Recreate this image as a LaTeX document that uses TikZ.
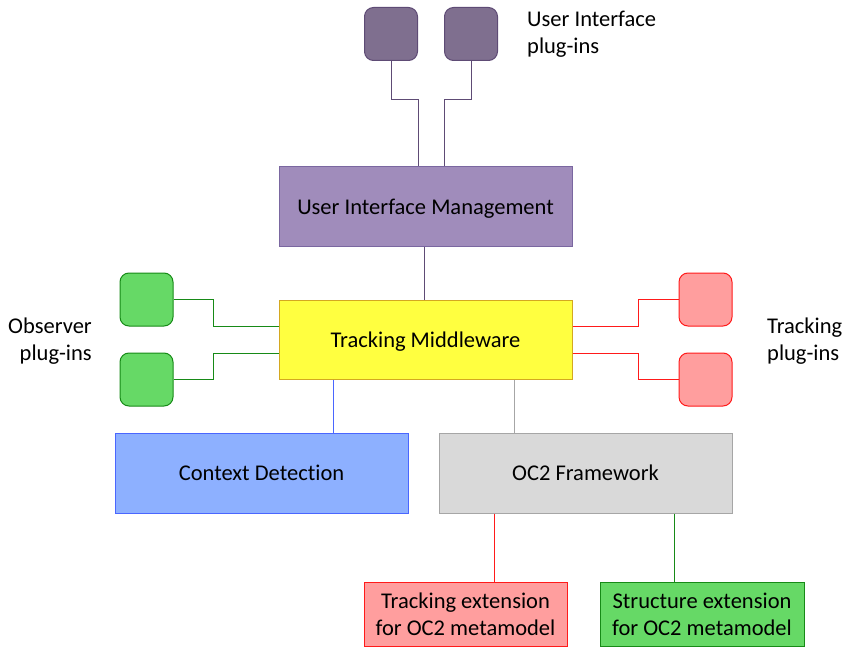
\documentclass[tikz,border=0pt]{standalone}
\usepackage{fontspec}
\setmainfont[Ligatures=NoCommon]{Carlito}
\begin{document}
\begin{tikzpicture}[x=1pt,y=-1pt,
  every node/.style={font=\fontsize{22.5}{27}\selectfont},
  blk/.style={draw, line width=1pt, inner sep=0pt, text depth=-1.5pt},
  plug/.style={draw, line width=1pt, rounded corners=9pt, minimum width=53pt, minimum height=53pt, inner sep=0pt},
  lbl/.style={align=left, inner sep=0pt},
  conn/.style={line width=1pt}]
\definecolor{uiplug}{HTML}{7F6F8F}
\definecolor{uiplugb}{HTML}{5E4B75}
\definecolor{uim}{HTML}{A08CBB}
\definecolor{uimb}{HTML}{7A67A0}
\definecolor{tmfill}{HTML}{FFFF40}
\definecolor{tmb}{HTML}{D4A820}
\definecolor{gfill}{HTML}{66D966}
\definecolor{gline}{HTML}{178A17}
\definecolor{rfill}{HTML}{FF9E9E}
\definecolor{rline}{HTML}{FF1A1A}
\definecolor{bfill}{HTML}{8DB0FF}
\definecolor{bline}{HTML}{4A66FF}
\definecolor{grfill}{HTML}{D9D9D9}
\definecolor{grline}{HTML}{A6A6A6}
\useasboundingbox (0,0) rectangle (845,647);

% UI plug-ins
\node[plug, fill=uiplug, draw=uiplugb] (u1) at (391,34) {};
\node[plug, fill=uiplug, draw=uiplugb] (u2) at (471,34) {};
\node[lbl, anchor=west] (ulbl) at (527,34) {User Interface\\plug-ins};

% UI Management
\node[blk, fill=uim, draw=uimb, minimum width=293pt, minimum height=79pt] (uim) at (425.5,206.5) {User Interface Management};

% Tracking Middleware
\node[blk, fill=tmfill, draw=tmb, minimum width=293pt, minimum height=79pt] (tm) at (425.5,339.5) {Tracking Middleware};

% Observer plug-ins
\node[plug, fill=gfill, draw=gline] (o1) at (146.5,299.5) {};
\node[plug, fill=gfill, draw=gline] (o2) at (146.5,379.5) {};
\node[align=right, inner sep=0pt, anchor=east] (olbl) at (92,341) {Observer\\plug-ins};

% Tracking plug-ins
\node[plug, fill=rfill, draw=rline] (t1) at (705.5,299.5) {};
\node[plug, fill=rfill, draw=rline] (t2) at (705.5,379.5) {};
\node[lbl, anchor=west] (tlbl) at (767,341) {Tracking\\plug-ins};

% Context Detection and OC2 Framework
\node[blk, fill=bfill, draw=bline, minimum width=293pt, minimum height=80pt] (cd) at (261.5,473) {Context Detection};
\node[blk, fill=grfill, draw=grline, minimum width=293pt, minimum height=80pt] (oc) at (585.5,473) {OC2 Framework};

% Extensions
\node[draw, line width=1pt, inner sep=0pt, fill=rfill, draw=rline, minimum width=203pt, minimum height=64pt, align=center] (te) at (465.5,614) {Tracking extension\\for OC2 metamodel};
\node[draw, line width=1pt, inner sep=0pt, fill=gfill, draw=gline, minimum width=204pt, minimum height=64pt, align=center] (se) at (702,614) {Structure extension\\for OC2 metamodel};

% Connectors
\draw[conn, draw=uiplugb] (u1.south) |- (418,100) -- (418,100 |- uim.north);
\draw[conn, draw=uiplugb] (u2.south) |- (444,100) -- (444,100 |- uim.north);
\draw[conn, draw=uiplugb] (424,0 |- uim.south) -- (424,0 |- tm.north);

\draw[conn, draw=gline] (o1.east) -- (213,299.5) |- (tm.west |- 0,326);
\draw[conn, draw=gline] (o2.east) -- (213,379.5) |- (tm.west |- 0,353);
\draw[conn, draw=rline] (tm.east |- 0,326) -- (638,326) |- (t1.west);
\draw[conn, draw=rline] (tm.east |- 0,353) -- (638,353) |- (t2.west);

\draw[conn, draw=bline] (333,0 |- tm.south) -- (333,0 |- cd.north);
\draw[conn, draw=grline] (514,0 |- tm.south) -- (514,0 |- oc.north);
\draw[conn, draw=rline] (494,0 |- oc.south) -- (494,0 |- te.north);
\draw[conn, draw=gline] (674,0 |- oc.south) -- (674,0 |- se.north);
\end{tikzpicture}
\end{document}
